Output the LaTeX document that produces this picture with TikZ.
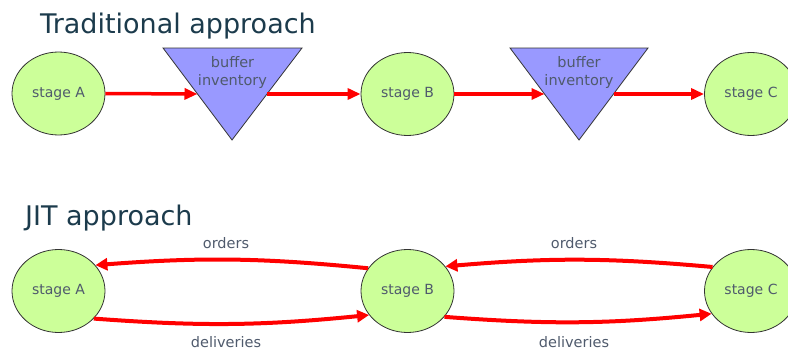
\documentclass[tikz,border=0pt]{standalone}
\usepackage{fontspec}
\setmainfont{DejaVu Sans}
\usetikzlibrary{arrows.meta,calc,shapes.geometric}
\definecolor{titlecol}{HTML}{1C3B4C}
\definecolor{labelcol}{HTML}{4F5A6C}
\definecolor{stagefill}{HTML}{CCFF99}
\definecolor{bufferfill}{HTML}{9999FF}
\definecolor{flowred}{HTML}{FF0000}
\tikzset{
  stagenode/.style={ellipse, draw=black!80, line width=0.8pt, fill=stagefill,
    minimum width=93pt, minimum height=83pt, inner sep=0pt,
    text=labelcol, font=\fontsize{14}{16}\selectfont},
  titletext/.style={anchor=base west, inner sep=0pt, text=titlecol,
    font=\fontsize{27}{30}\selectfont},
  smalltext/.style={inner sep=0pt, text=labelcol, font=\fontsize{14.5}{17}\selectfont},
  bufferbox/.style={draw=black!80, line width=0.8pt, fill=bufferfill},
  flow/.style={draw=flowred, line width=3.5pt, -{Triangle[length=13pt,width=11pt]}},
  jitflow/.style={draw=flowred, line width=4pt, -{Triangle[length=12pt,width=12pt]}},
}
\begin{document}
\begin{tikzpicture}[x=1pt,y=-1pt]
\useasboundingbox (0,0) rectangle (788,348);

% ---- Traditional approach ----
\node[titletext] (ttrad) at (40,33) {Traditional approach};

\node[stagenode] (tA) at (58.5,93.5) {stage A};
\node[stagenode] (tB) at (407.5,94) {stage B};
\node[stagenode] (tC) at (751,94) {stage C};

% buffer triangles (top-left, top-right, apex)
\coordinate (b1l) at (163,48);
\coordinate (b1r) at (302,48);
\coordinate (b1c) at (232,140);
\coordinate (b2l) at (510,48);
\coordinate (b2r) at (648,48);
\coordinate (b2c) at (579,140);
\draw[bufferbox] (b1l) -- (b1r) -- (b1c) -- cycle;
\draw[bufferbox] (b2l) -- (b2r) -- (b2c) -- cycle;
\node[smalltext, align=center] (buf1) at (232.5,72) {buffer\\[1pt]inventory};
\node[smalltext, align=center] (buf2) at (579,72) {buffer\\[1pt]inventory};

\coordinate (b1in)  at ($(b1l)!0.5!(b1c)$);
\coordinate (b1out) at ($(b1r)!0.5!(b1c)$);
\coordinate (b2in)  at ($(b2l)!0.5!(b2c)$);
\coordinate (b2out) at ($(b2r)!0.5!(b2c)$);

\draw[flow] (tA.east) -- (b1in);
\draw[flow] (b1out) -- (tB.west);
\draw[flow] (tB.east) -- (b2in);
\draw[flow] (b2out) -- (tC.west);

% ---- JIT approach ----
\node[titletext] (tjit) at (25,225) {JIT approach};

\node[stagenode] (jA) at (58.5,291) {stage A};
\node[stagenode] (jB) at (407.5,291) {stage B};
\node[stagenode] (jC) at (751,291) {stage C};

\draw[jitflow] (jB.150) to[bend right=5] (jA.35);
\draw[jitflow] (jA.-38) to[bend right=5] (jB.-148);
\draw[jitflow] (jC.148) to[bend right=5] (jB.33);
\draw[jitflow] (jB.-35) to[bend right=5] (jC.-150);

\node[smalltext] (o1) at (226,243) {orders};
\node[smalltext] (o2) at (574,243) {orders};
\node[smalltext] (d1) at (226,342) {deliveries};
\node[smalltext] (d2) at (574,342) {deliveries};
\end{tikzpicture}
\end{document}
